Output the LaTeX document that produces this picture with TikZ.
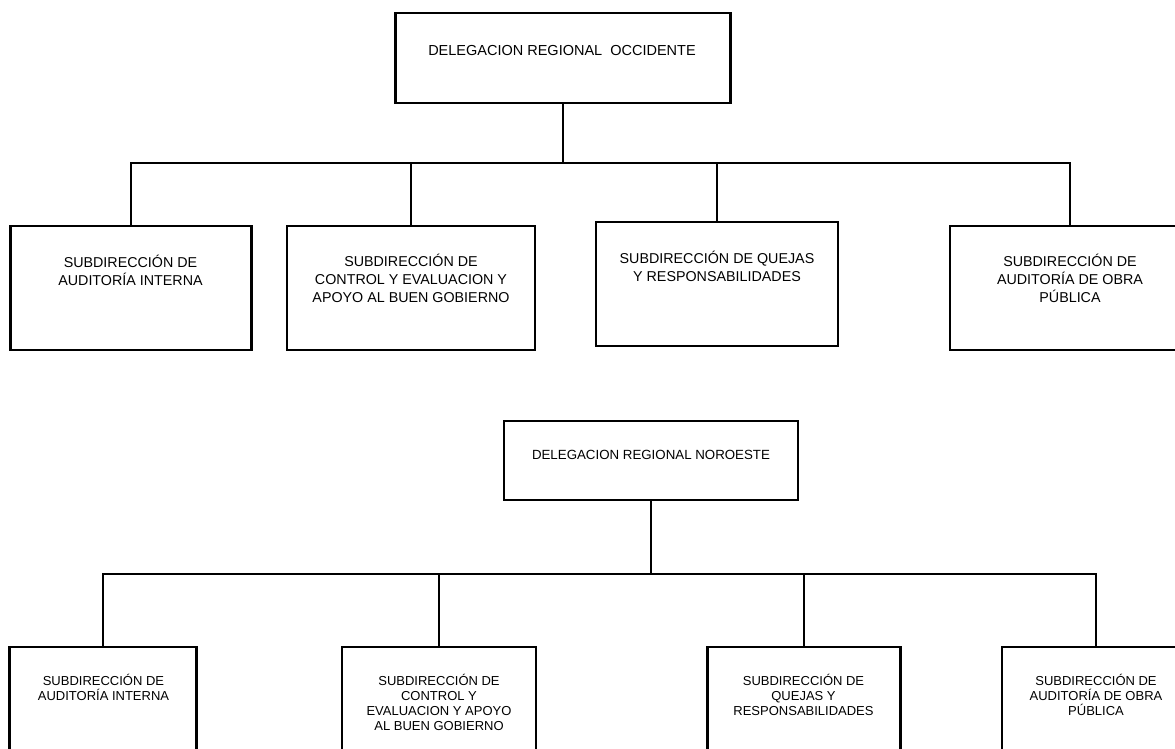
\documentclass[tikz,border=0pt]{standalone}
\usepackage{fontspec}
\setmainfont{Liberation Sans}
\begin{document}
\begin{tikzpicture}[x=1pt,y=-1pt,
  unit/.style={draw, line width=2.5pt, rectangle, inner sep=0pt},
  link/.style={line width=2pt},
  headtext/.style={inner sep=0pt, text height=10.4pt, text depth=0pt},
  % the node box covers the last line only, so its centre is that line's middle
  bigcap/.style={align=center, inner sep=0pt, font=\fontsize{14.3}{17.6}\selectfont, text height=10.2pt, text depth=0pt},
  smallcap/.style={align=center, inner sep=0pt, font=\fontsize{13}{15}\selectfont, text height=9.3pt, text depth=0pt}]
\fill[white] (0,0) rectangle (1175,749);
\useasboundingbox (0,0) rectangle (1175,749);
\clip (0,0) rectangle (1175,749);

% ---------- Delegación Regional Occidente ----------
\node[unit, minimum width=335, minimum height=90] (occ) at (563,58) {};
\node[headtext, font=\fontsize{14.5}{17}\selectfont] (occT) at (562,50) {DELEGACION REGIONAL\ \ OCCIDENTE};

\node[unit, minimum width=241, minimum height=124] (oc1) at (131,288) {};
\node[unit, minimum width=248, minimum height=124] (oc2) at (411,288) {};
\node[unit, minimum width=242, minimum height=124] (oc3) at (717,284) {};
\node[unit, minimum width=240, minimum height=124] (oc4) at (1070,288) {};

\node[bigcap] (oc1T) at (130.5,280) {SUBDIRECCIÓN DE\\AUDITORÍA INTERNA};
\node[bigcap] (oc2T) at (411,297) {SUBDIRECCIÓN DE\\CONTROL Y EVALUACION Y\\APOYO AL BUEN GOBIERNO};
\node[bigcap] (oc3T) at (717,276) {SUBDIRECCIÓN DE QUEJAS\\Y RESPONSABILIDADES};
\node[bigcap] (oc4T) at (1070,297) {SUBDIRECCIÓN DE\\AUDITORÍA DE OBRA\\PÚBLICA};

\coordinate (occbus) at (563,163);
\draw[link] (occ.south) -- (occbus);
\draw[link] (oc1.north) -- (oc1.north |- occbus) -- (oc4.north |- occbus) -- (oc4.north);
\draw[link] (oc2.north) -- (oc2.north |- occbus);
\draw[link] (oc3.north) -- (oc3.north |- occbus);

% ---------- Delegación Regional Noroeste ----------
\node[unit, minimum width=294, minimum height=79] (nor) at (651,460.5) {};
\node[headtext, font=\fontsize{13.3}{16}\selectfont, text height=9.5pt] (norT) at (651,455) {DELEGACION REGIONAL NOROESTE};

\node[unit, minimum width=187, minimum height=143] (no1) at (103,718.5) {};
\node[unit, minimum width=194, minimum height=143] (no2) at (439,718.5) {};
\node[unit, minimum width=193, minimum height=143] (no3) at (804,718.5) {};
\node[unit, minimum width=188, minimum height=143] (no4) at (1096,718.5) {};

\node[smallcap] (no1T) at (103.5,696) {SUBDIRECCIÓN DE\\AUDITORÍA INTERNA};
\node[smallcap] (no2T) at (439,726) {SUBDIRECCIÓN DE\\CONTROL Y\\EVALUACION Y APOYO\\AL BUEN GOBIERNO};
\node[smallcap] (no3T) at (803.5,711) {SUBDIRECCIÓN DE\\QUEJAS Y\\RESPONSABILIDADES};
\node[smallcap] (no4T) at (1096,711) {SUBDIRECCIÓN DE\\AUDITORÍA DE OBRA\\PÚBLICA};

\coordinate (norbus) at (651,574);
\draw[link] (nor.south) -- (norbus);
\draw[link] (no1.north) -- (no1.north |- norbus) -- (no4.north |- norbus) -- (no4.north);
\draw[link] (no2.north) -- (no2.north |- norbus);
\draw[link] (no3.north) -- (no3.north |- norbus);
\end{tikzpicture}
\end{document}
